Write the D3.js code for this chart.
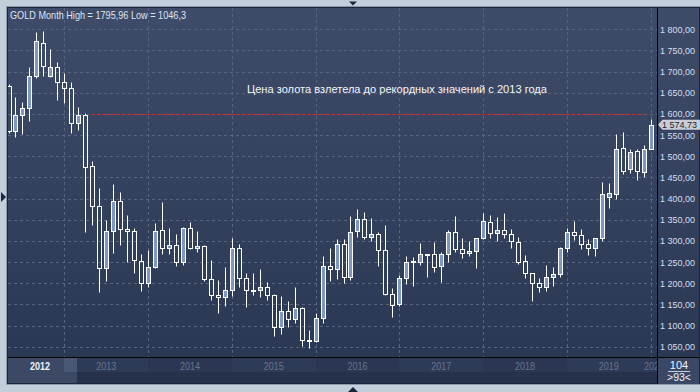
<!DOCTYPE html>
<html>
<head>
<meta charset="utf-8">
<script src="https://cdn.jsdelivr.net/npm/d3@7"></script>
<style>
  html, body { margin: 0; padding: 0; background: #c3cedb; }
  svg { display: block; font-family: "Liberation Sans", Arial, sans-serif; }
</style>
</head>
<body>
<svg id="chart" width="700" height="392"></svg>
<script>
// monthly candles, May 2012 .. Jan 2020
const firstMonth = new Date(2012, 4, 1);
const lastMonth = new Date(2020, 0, 1);

const opens = [
    1666, 1560, 1597, 1613, 1690, 1768, 1690, 1710,
    1675, 1661, 1578, 1597, 1477, 1383, 1235, 1323, 1394, 1327, 1323, 1253,
    1200, 1239, 1325, 1283, 1290, 1249, 1330, 1283, 1288, 1209, 1172, 1167,
    1184, 1283, 1212, 1183, 1183, 1190, 1172, 1096, 1134, 1115, 1141, 1066,
    1063, 1117, 1241, 1233, 1293, 1215, 1323, 1351, 1309, 1316, 1279, 1174,
    1150, 1212, 1251, 1249, 1269, 1268, 1241, 1268, 1320, 1280, 1271, 1276,
    1306, 1345, 1318, 1326, 1316, 1298, 1253, 1223, 1200, 1190, 1214, 1221,
    1283, 1320, 1314, 1293, 1283, 1307, 1404, 1412, 1520, 1471, 1512, 1462,
    1516
];
const highs = [
    1670, 1641, 1629, 1712, 1794, 1795.96, 1753, 1723,
    1697, 1676, 1616, 1603, 1489, 1424, 1349, 1434, 1416, 1361, 1330, 1268,
    1279, 1343, 1391, 1330, 1316, 1332, 1345, 1324, 1291, 1255, 1207, 1238,
    1306, 1293, 1223, 1223, 1233, 1204, 1175, 1170, 1158, 1192, 1143, 1089,
    1130, 1264, 1283, 1304, 1304, 1359, 1375, 1368, 1353, 1320, 1338, 1188,
    1219, 1264, 1261, 1296, 1270, 1298, 1274, 1326, 1359, 1306, 1299, 1307,
    1366, 1361, 1357, 1366, 1327, 1310, 1267, 1225, 1212, 1243, 1238, 1286,
    1330, 1347, 1327, 1304, 1306, 1440, 1436, 1552, 1557, 1516, 1518, 1526,
    1588
];
const lows = [
    1556, 1545, 1553, 1584, 1684, 1690, 1687, 1633,
    1625, 1554, 1562, 1322, 1337, 1180, 1206, 1272, 1290, 1251, 1225, 1182,
    1192, 1236, 1270, 1268, 1241, 1242, 1280, 1273, 1205, 1160, 1130, 1145,
    1170, 1190, 1143, 1172, 1168, 1160, 1076, 1080, 1097, 1105, 1052, 1046.3,
    1062, 1107, 1206, 1209, 1200, 1208, 1310, 1304, 1300, 1240, 1171, 1121,
    1145, 1198, 1194, 1243, 1214, 1226, 1204, 1251, 1274, 1259, 1264, 1235,
    1304, 1306, 1300, 1306, 1283, 1245, 1212, 1159, 1180, 1182, 1193, 1215,
    1274, 1302, 1280, 1267, 1265, 1300, 1378, 1399, 1459, 1460, 1444, 1452,
    1516
];
const closes = [
    1560, 1597, 1613, 1690, 1772, 1713, 1710, 1675,
    1661, 1578, 1597, 1475, 1383, 1235, 1323, 1394, 1327, 1323, 1255, 1200,
    1239, 1323, 1283, 1290, 1249, 1330, 1283, 1288, 1209, 1172, 1167, 1184,
    1283, 1212, 1183, 1184, 1190, 1172, 1096, 1134, 1115, 1141, 1066, 1064,
    1117, 1241, 1233, 1293, 1215, 1320, 1351, 1309, 1316, 1279, 1174, 1148,
    1212, 1251, 1252, 1268, 1267, 1239, 1268, 1320, 1280, 1271, 1276, 1306,
    1347, 1318, 1326, 1316, 1300, 1251, 1223, 1201, 1190, 1214, 1221, 1283,
    1320, 1314, 1293, 1283, 1306, 1411, 1414, 1518, 1466, 1511, 1465, 1516,
    1574.73
];

const yTicks = [1050, 1100, 1150, 1200, 1250, 1300, 1350, 1400, 1450, 1500, 1550, 1600, 1650, 1700, 1750, 1800];
const years = [2012, 2013, 2014, 2015, 2016, 2017, 2018, 2019, 2020];

const title = "GOLD Month High = 1795,96 Low = 1046,3";
const note = "Цена золота взлетела до рекордных значений с 2013 года";
const recordLevel = 1600;
const recordFrom = "2013-05", recordTo = "2019-12";
const lastPrice = 1574.73;
const barsTotal = "104", barsShown = ">93<";

const svg = d3.select("#chart");
const key = d3.timeFormat("%Y-%m");
const ru = d3.formatLocale({ decimal: ",", thousands: " ", grouping: [3], currency: ["", ""] });
const fmt = ru.format(",.2f");

const months = d3.timeMonth.range(firstMonth, d3.timeMonth.offset(lastMonth, 1));
const candles = months.map((m, i) => ({
    month: key(m), open: opens[i], high: highs[i], low: lows[i], close: closes[i]
}));

const x = d3.scalePoint()
    .domain(candles.map(d => d.month))
    .range([8.5, 650.6]);
const y = d3.scaleLinear()
    .domain([1050, 1800])
    .range([346.7, 29.3]);

const px = v => Math.round(v) + 0.5;

// defs
const defs = svg.append("defs");
const grad = defs.append("linearGradient")
    .attr("id", "bg").attr("x1", 0).attr("y1", 0).attr("x2", 0).attr("y2", 1);
grad.append("stop").attr("offset", "0%").attr("stop-color", "#3e4c69");
grad.append("stop").attr("offset", "100%").attr("stop-color", "#2b3854");
defs.append("clipPath").attr("id", "plotClip")
    .append("rect").attr("x", 8).attr("y", 8).attr("width", 649).attr("height", 349);
defs.append("clipPath").attr("id", "bandClip")
    .append("rect").attr("x", 8).attr("y", 358).attr("width", 649).attr("height", 25);

// outer frame
svg.append("rect").attr("width", 700).attr("height", 392).attr("fill", "#c3cedb");
svg.append("rect")
    .attr("x", 6.5).attr("y", 6.5).attr("width", 693).attr("height", 378)
    .attr("fill", "none").attr("stroke", "#8d9aae");
svg.append("rect")
    .attr("x", 7).attr("y", 7).attr("width", 693).attr("height", 377)
    .attr("fill", "#1b2438");
svg.append("rect")
    .attr("x", 8).attr("y", 8).attr("width", 691).attr("height", 349)
    .attr("fill", "url(#bg)");

// little scroll arrows on the frame
svg.append("path").attr("d", "M349,1.5 L357,1.5 L353,5.5 Z").attr("fill", "#1c2539");
svg.append("path").attr("d", "M348,392 L358,392 L353,387 Z").attr("fill", "#1c2539");
svg.append("path").attr("d", "M1,192 L1,202 L6,197 Z").attr("fill", "#1c2539");

// grid
const grid = svg.append("g").attr("clip-path", "url(#plotClip)");
grid.selectAll(".hgrid")
    .data(yTicks)
    .enter().append("line")
    .attr("class", "hgrid")
    .attr("x1", 8).attr("x2", 657)
    .attr("y1", d => px(y(d))).attr("y2", d => px(y(d)))
    .attr("stroke", "#56647f").attr("stroke-dasharray", "3,3");
grid.selectAll(".vgrid")
    .data(years.slice(1))
    .enter().append("line")
    .attr("class", "vgrid")
    .attr("x1", d => px(x(d + "-01"))).attr("x2", d => px(x(d + "-01")))
    .attr("y1", 8).attr("y2", 357)
    .attr("stroke", "#56647f").attr("stroke-dasharray", "3,3");

// record level line
grid.append("line")
    .attr("x1", x(recordFrom)).attr("x2", x(recordTo) + 1)
    .attr("y1", px(y(recordLevel))).attr("y2", px(y(recordLevel)))
    .attr("stroke", "#e8221c").attr("stroke-width", 1).attr("stroke-dasharray", "3,2");

// candles
const candle = grid.selectAll(".candle")
    .data(candles)
    .enter().append("g")
    .attr("class", "candle");

candle.append("line")
    .attr("x1", d => px(x(d.month))).attr("x2", d => px(x(d.month)))
    .attr("y1", d => px(y(d.high)))
    .attr("y2", d => px(y(Math.max(d.open, d.close))))
    .attr("stroke", "#fff");
candle.append("line")
    .attr("x1", d => px(x(d.month))).attr("x2", d => px(x(d.month)))
    .attr("y1", d => px(y(Math.min(d.open, d.close))))
    .attr("y2", d => px(y(d.low)))
    .attr("stroke", "#fff");
candle.append("rect")
    .attr("x", d => Math.round(x(d.month)) - 1.5)
    .attr("width", 4)
    .attr("y", d => px(y(Math.max(d.open, d.close))))
    .attr("height", d => Math.max(1, px(y(Math.min(d.open, d.close))) - px(y(Math.max(d.open, d.close)))))
    .attr("fill", d => d.close >= d.open ? "#7e97c3" : "none")
    .attr("stroke", "#fff");

// texts on the plot
svg.append("text")
    .attr("x", 10).attr("y", 19)
    .attr("fill", "#dde5f2").attr("font-size", 11)
    .attr("textLength", 176).attr("lengthAdjust", "spacingAndGlyphs")
    .text(title);
svg.append("text")
    .attr("x", 247).attr("y", 92.5)
    .attr("fill", "#f4f6fa").attr("font-size", 11.5)
    .attr("textLength", 300).attr("lengthAdjust", "spacingAndGlyphs")
    .text(note);

// separators
svg.append("line").attr("x1", 657.5).attr("x2", 657.5).attr("y1", 8).attr("y2", 384)
    .attr("stroke", "#000");
svg.append("line").attr("x1", 8).attr("x2", 699).attr("y1", 357.5).attr("y2", 357.5)
    .attr("stroke", "#000");

// right price axis
const yAxis = svg.append("g")
    .attr("transform", "translate(658,0)")
    .call(d3.axisRight(y).tickValues(yTicks).tickSize(0).tickFormat(fmt));
yAxis.select(".domain").remove();
yAxis.selectAll("text")
    .attr("x", 37).attr("text-anchor", "end")
    .attr("fill", "#d6dfee").attr("font-size", 9.5)
    .attr("font-family", "Liberation Sans, Arial, sans-serif")
    .attr("textLength", 35).attr("lengthAdjust", "spacingAndGlyphs");

// current price marker
const py = y(lastPrice);
svg.append("path")
    .attr("d", `M658,${py} L662.5,${py - 5} L700,${py - 5} L700,${py + 5} L662.5,${py + 5} Z`)
    .attr("fill", "#c9ced6");
svg.append("text")
    .attr("x", 697).attr("y", py + 3.5)
    .attr("text-anchor", "end").attr("fill", "#1b1f28").attr("font-size", 9.5)
    .attr("textLength", 35).attr("lengthAdjust", "spacingAndGlyphs")
    .text(fmt(lastPrice));

// time band at the bottom
const band = svg.append("g").attr("clip-path", "url(#bandClip)");
band.append("rect").attr("x", 8).attr("y", 358).attr("width", 649).attr("height", 14).attr("fill", "#2c3955");
band.append("rect").attr("x", 8).attr("y", 372).attr("width", 649).attr("height", 11).attr("fill", "#26324c");
band.selectAll(".yearBlock")
    .data(years.slice(1, -1))
    .enter().append("rect")
    .attr("class", "yearBlock")
    .attr("x", d => Math.round(x(d + "-01")))
    .attr("width", d => Math.round(x((d + 1) + "-01")) - Math.round(x(d + "-01")))
    .attr("y", 358).attr("height", 14)
    .attr("fill", (d, i) => i % 2 ? "#2a3652" : "#2e3b57");
// scroll thumb
band.append("rect").attr("x", 8).attr("y", 358).attr("width", 69).attr("height", 25).attr("fill", "#3c4965");
band.append("rect").attr("x", 64).attr("y", 358).attr("width", 13).attr("height", 14).attr("fill", "#4b5874");

band.selectAll(".yearLabel")
    .data(years)
    .enter().append("text")
    .attr("class", "yearLabel")
    .attr("x", d => {
        if (d === years[0]) return 40;
        if (d === years[years.length - 1]) return x(d + "-01") + 3.5;
        return (x(d + "-01") + x((d + 1) + "-01")) / 2;
    })
    .attr("y", 369.5)
    .attr("text-anchor", "middle")
    .attr("font-size", 11)
    .attr("fill", d => d === years[0] ? "#eef2fa" : "#67758f")
    .attr("font-weight", d => d === years[0] ? "bold" : "normal")
    .attr("textLength", 20).attr("lengthAdjust", "spacingAndGlyphs")
    .text(d => d);

// bar counter box
svg.append("rect").attr("x", 658).attr("y", 358).attr("width", 41).attr("height", 26).attr("fill", "#3a4765");
svg.append("text").attr("x", 679).attr("y", 368.5).attr("text-anchor", "middle")
    .attr("fill", "#eef2fa").attr("font-size", 11).text(barsTotal);
svg.append("line").attr("x1", 668).attr("x2", 690).attr("y1", 371.5).attr("y2", 371.5)
    .attr("stroke", "#c8d0de");
svg.append("text").attr("x", 679).attr("y", 381).attr("text-anchor", "middle")
    .attr("fill", "#eef2fa").attr("font-size", 10.5).text(barsShown);
</script>
</body>
</html>
